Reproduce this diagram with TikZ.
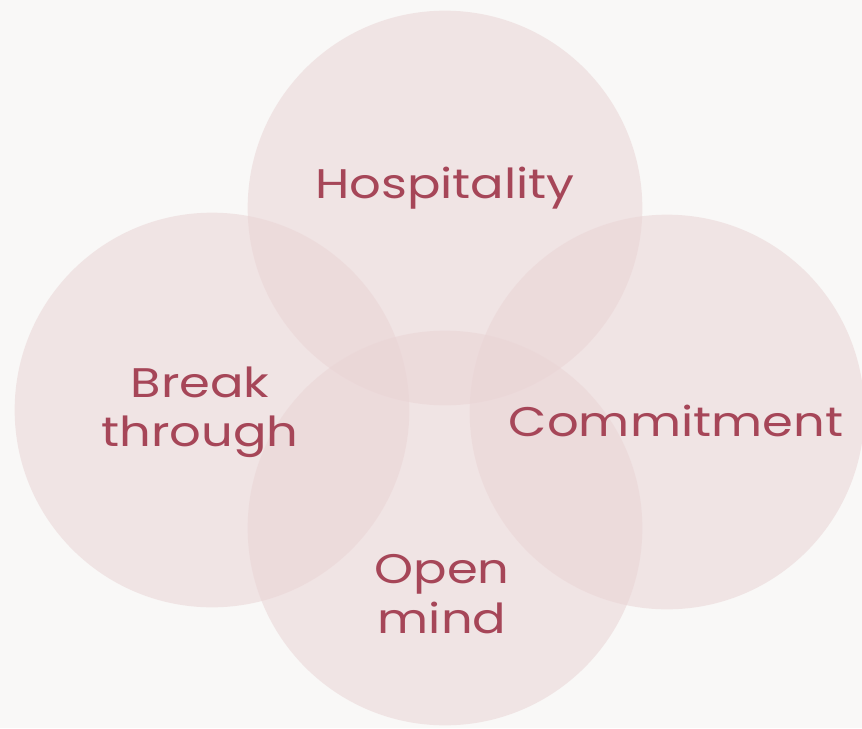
\documentclass[tikz,border=0pt]{standalone}
\usepackage{fontspec}
\setmainfont{Poppins}[FakeStretch=1.2]
\definecolor{bgc}{RGB}{249,248,247}
\definecolor{petal}{RGB}{234,212,213}
\definecolor{txt}{RGB}{166,70,88}
\begin{document}
\begin{tikzpicture}[x=0.75pt,y=-0.75pt,
  petalc/.style={circle, fill=petal, fill opacity=0.55, minimum size=296pt, inner sep=0pt, draw=none},
  lbl/.style={text=txt, font=\fontsize{31}{37}\selectfont, align=center, inner sep=0pt}]
\fill[bgc] (0,0) rectangle (862,728);
\useasboundingbox (0,0) rectangle (862,728);
\node[petalc] (top) at (445,208) {};
\node[petalc] (left) at (212,410) {};
\node[petalc] (right) at (667,412) {};
\node[petalc] (bottom) at (445,528) {};
\node[lbl] (t1) at (445,188) {Hospitality};
\node[lbl] (t2) at (200,412) {Break\\through};
\node[lbl] (t3) at (676,421) {Commitment};
\node[lbl] (t4) at (442,594) {Open\\mind};
\end{tikzpicture}
\end{document}
